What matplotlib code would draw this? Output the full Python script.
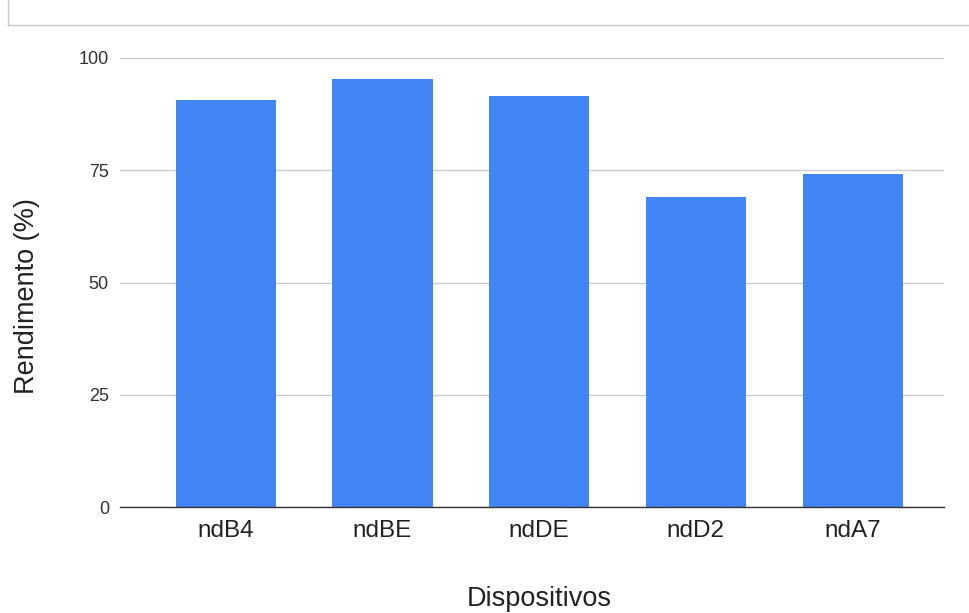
import numpy as np
import matplotlib.pyplot as plt
from matplotlib.lines import Line2D

## dados
dispositivos = ['ndB4', 'ndBE', 'ndDE', 'ndD2', 'ndA7']
rendimento = [90.6, 95.3, 91.5, 69.0, 74.2]
yticks = [0, 25, 50, 75, 100]

plt.rcParams['font.family'] = ['Liberation Sans', 'DejaVu Sans']

fig = plt.figure(figsize=(9.7, 6.13), dpi=100)
ax = fig.add_axes([0.1237, 0.1729, 0.850, 0.7325])

x = np.arange(len(dispositivos))
ax.bar(x, rendimento, width=0.64, color='#4285f4', zorder=3)

ax.set_xlim(-0.675, 4.586)
ax.set_ylim(0, 100)
ax.set_yticks(yticks)
ax.set_xticks(x)
ax.set_xticklabels(dispositivos, fontsize=17.5, color='#222222')
ax.set_yticklabels([str(t) for t in yticks], fontsize=13, color='#333333')
ax.tick_params(axis='both', length=0)
ax.tick_params(axis='y', pad=8)
ax.tick_params(axis='x', pad=9)

ax.grid(axis='y', color='#cccccc', linewidth=1, zorder=0)
for s in ['top', 'right', 'left']:
    ax.spines[s].set_visible(False)
ax.spines['bottom'].set_color('#333333')
ax.spines['bottom'].set_linewidth(1)
ax.spines['bottom'].set_zorder(4)

ax.set_ylabel('Rendimento (%)', fontsize=19.5, color='#222222')
ax.set_xlabel('Dispositivos', fontsize=19.5, color='#222222', labelpad=32)
ax.yaxis.set_label_coords(-0.097, 0.47)
ax.xaxis.label.set_x(0.508)

## moldura cinza no topo (recorte do screenshot)
fig.add_artist(Line2D([8/970, 1.0], [1 - 25/613, 1 - 25/613], color='#c8c8c8', lw=1))
fig.add_artist(Line2D([8/970, 8/970], [1 - 25/613, 1.0], color='#c8c8c8', lw=1))

fig.savefig('out.png', dpi=100)
